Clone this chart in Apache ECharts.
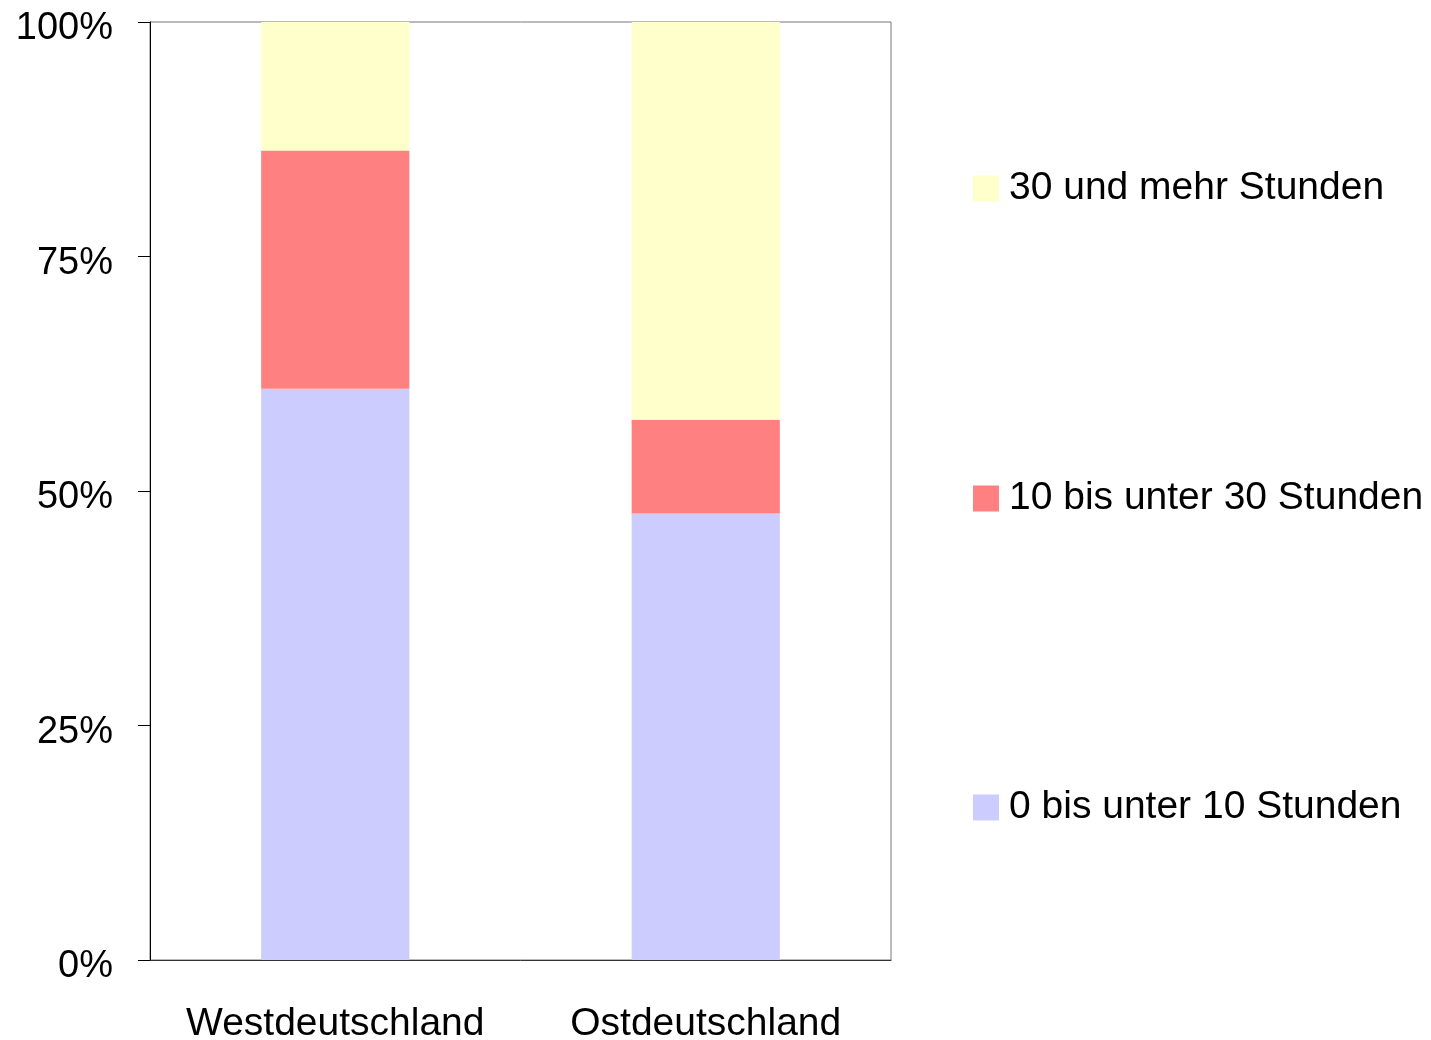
<!DOCTYPE html>
<html>
<head>
<meta charset="utf-8">
<style>
  html, body { margin: 0; padding: 0; background: #fff; }
  #chart { width: 1431px; height: 1040px; }
</style>
<script src="https://cdn.jsdelivr.net/npm/echarts@6/dist/echarts.min.js"></script>
</head>
<body>
<div id="chart"></div>
<script>
// Regions shown on the category axis
const regions = ['Westdeutschland', 'Ostdeutschland'];

// Share of each hours band per region (percent)
const under10 = [60.9, 47.6];
const from10to30 = [25.4, 10.0];
const over30 = [13.7, 42.4];

// Legend / series names
const names = ['0 bis unter 10 Stunden', '10 bis unter 30 Stunden', '30 und mehr Stunden'];
const colors = ['#CCCCFF', '#FF8080', '#FFFFCC'];

const yTicks = [0, 25, 50, 75, 100];

const font = 'Liberation Sans, Arial, sans-serif';
const chart = echarts.init(document.getElementById('chart'), null, { renderer: 'canvas' });

function legendFor(name, top) {
  return {
    data: [name],
    left: 973,
    top: top,
    orient: 'vertical',
    itemWidth: 26,
    itemHeight: 26,
    itemGap: 0,
    padding: 0,
    icon: 'rect',
    selectedMode: false,
    textStyle: { fontFamily: font, fontSize: 39, color: '#000', lineHeight: 39, padding: [4, 0, 0, 5] }
  };
}

const seriesData = [under10, from10to30, over30];

chart.setOption({
  animation: false,
  backgroundColor: '#fff',
  grid: {
    left: 150, right: 540, top: 22, bottom: 80,
    outerBoundsMode: 'none',
    containLabel: false,
    show: true, borderColor: '#777', borderWidth: 1, backgroundColor: 'transparent'
  },
  legend: [
    legendFor(names[2], 167),
    legendFor(names[1], 477),
    legendFor(names[0], 786)
  ],
  xAxis: {
    type: 'category',
    data: regions,
    axisLine: { show: true, lineStyle: { color: '#333', width: 1 } },
    axisTick: { show: false },
    axisLabel: { fontFamily: font, fontSize: 39, color: '#000', margin: 45, interval: 0 },
    splitLine: { show: false }
  },
  yAxis: {
    type: 'value',
    min: yTicks[0], max: yTicks[yTicks.length - 1], interval: 25,
    axisLine: { show: true, lineStyle: { color: '#000', width: 1 } },
    axisTick: { show: true, inside: false, length: 12, lineStyle: { color: '#000' } },
    axisLabel: {
      fontFamily: font, fontSize: 38, color: '#000', margin: 37,
      formatter: v => v + '%', verticalAlign: 'top', lineHeight: 14
    },
    splitLine: { show: false }
  },
  series: names.map((n, i) => ({
    name: n,
    type: 'bar',
    stack: 'total',
    barWidth: '40%',
    itemStyle: { color: colors[i] },
    data: seriesData[i]
  }))
});
</script>
</body>
</html>
